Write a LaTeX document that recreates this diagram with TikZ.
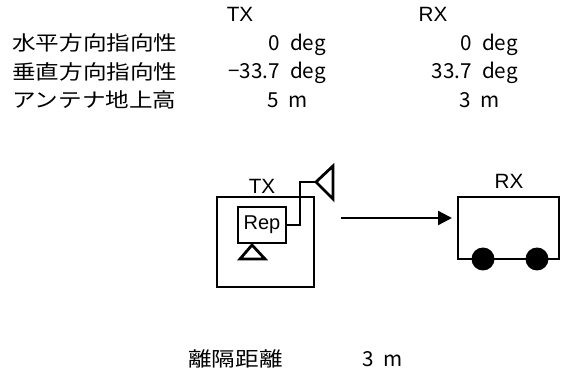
\documentclass[tikz,border=0pt]{standalone}
\usepackage{fontspec}
\usetikzlibrary{arrows.meta}
\setmainfont{Liberation Sans}
\newfontfamily\jpfont{Noto Sans CJK JP}
\newcommand{\gapunit}{\hspace{7.5pt}}
\tikzset{
 line/.style={draw=black,line width=2.1pt,line cap=butt,line join=miter},
 jp/.style={anchor=base west,inner sep=0pt,xscale=1.18,font=\fontsize{15}{15}\jpfont},
 num/.style={anchor=base east,inner sep=0pt,font=\fontsize{15.5}{15.5}\jpfont},
 lat/.style={inner sep=0pt,font=\fontsize{15.5}{15.5}\selectfont},
}
\begin{document}
\begin{tikzpicture}[x=0.75pt,y=-0.75pt]
\useasboundingbox (0,0) rectangle (561,374);
\node[lat] (txh) at (240,14.5) {TX};
\node[lat] (rxh) at (433,14.5) {RX};
\node[jp] (l1) at (12,51) {水平方向指向性};
\node[jp] (l2) at (12,80) {垂直方向指向性};
\node[jp] (l3) at (12,108) {アンテナ地上高};
\node[num] (a1) at (326,51) {0\gapunit deg};
\node[num] (a2) at (326,79) {−33.7\gapunit deg};
\node[num] (a3) at (308,108) {5\gapunit m};
\node[num] (b1) at (518,51) {0\gapunit deg};
\node[num] (b2) at (518,79) {33.7\gapunit deg};
\node[num] (b3) at (500,108) {3\gapunit m};
\node[jp] (l4) at (188,366) {離隔距離};
\node[num] (d) at (403,366) {3\gapunit m};
\node[lat] (tx) at (262,186) {TX};
\node[lat] (rx) at (509,181) {RX};
\draw[line] (217,197) rectangle (314,287);
\node[line,fill=white,minimum width=36pt,minimum height=27pt,inner sep=0pt,font=\fontsize{15}{15}\selectfont] (rep) at (262,225) {Rep};
\coordinate (ant) at (316,182);
\draw[line] (rep.east) -| (300,182) -- (ant);
\draw[line] (ant) -- (333,166) -- (333,199) -- cycle;
\draw[line] (252,245) -- (240,259) -- (265,259) -- cycle;
\coordinate (arr) at (341,218);
\coordinate (arrtip) at (452,218);
\draw[-{Triangle[length=10.5pt,width=10.5pt]},line width=1.7pt] (arr) -- (arrtip);
\draw[line] (458,259) -- (458,197) -- (559,197) -- (559,259) -- cycle;
\fill (483,259) circle (11.5);
\fill (537,259) circle (11.5);
\end{tikzpicture}
\end{document}
